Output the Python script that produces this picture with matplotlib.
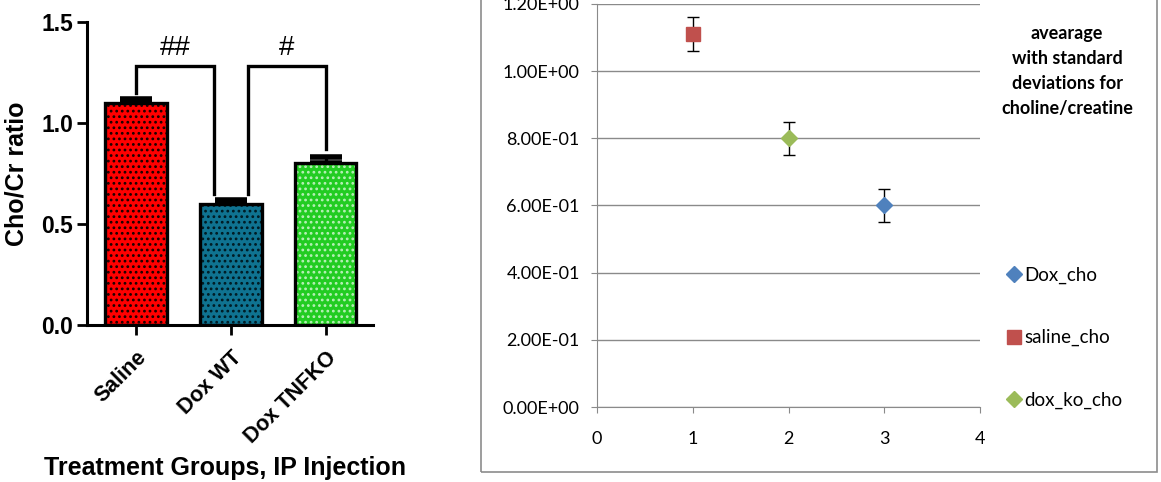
import matplotlib.pyplot as plt
from matplotlib.patches import Rectangle

# ---- bar panel data ----
groups = ["Saline", "Dox WT", "Dox TNFKO"]
ratio = [1.10, 0.60, 0.80]
ratio_sem = [0.02, 0.02, 0.03]
bar_colors = ["#ff0000", "#0f7391", "#22cc22"]
dot_colors = ["#1a0000", "#001a22", "#b8f0b8"]

# significance brackets: (x_left, x_right, left leg end, right leg end, label)
brackets = [(0.0, 0.82, 1.15, 0.65, "##"), (1.18, 2.0, 0.65, 0.87, "#")]
bracket_top = 1.28

# ---- scatter panel data ----
series = ["Dox_cho", "saline_cho", "dox_ko_cho"]
series_x = [3, 1, 2]
series_mean = [0.60, 1.11, 0.80]
series_sd = [0.05, 0.05, 0.05]
series_colors = ["#4f81bd", "#c0504d", "#9bbb59"]
series_markers = ["D", "s", "D"]

W, H = 1161, 482
fig = plt.figure(figsize=(W / 100, H / 100), dpi=100)

# ===== left: bar chart =====
ax = fig.add_axes([87 / W, 1 - 325 / H, (373 - 87) / W, (325 - 22) / H])
x = list(range(len(groups)))
plt.rcParams['hatch.linewidth'] = 1.2
for xi, v, c, dc in zip(x, ratio, bar_colors, dot_colors):
    ax.bar(xi, v, width=0.65, color=c, edgecolor=dc, hatch="...", linewidth=0, zorder=2)
ax.bar(x, ratio, width=0.65, fill=False, edgecolor="black", linewidth=2.4, zorder=3)
ax.errorbar(x, ratio, yerr=[[0] * 3, ratio_sem], fmt="none", ecolor="black",
            elinewidth=2.4, capsize=11.5, capthick=4, zorder=1)

for x0, x1, y0, y1, lab in brackets:
    ax.plot([x0, x0, x1, x1], [y0, bracket_top, bracket_top, y1], color="black",
            lw=2.4, solid_joinstyle="miter", clip_on=False)
    ax.text((x0 + x1) / 2, bracket_top + 0.025, lab, ha="center", va="bottom",
            fontsize=20, family="Liberation Sans")

ax.set_xlim(-0.52, 2.5)
ax.set_ylim(0, 1.5)
ax.set_yticks([0, 0.5, 1.0, 1.5])
ax.set_yticklabels(["0.0", "0.5", "1.0", "1.5"])
ax.set_xticks(x)
ax.set_xticklabels(groups, rotation=45, ha="right", va="top", rotation_mode="anchor")
for lab in ax.get_yticklabels():
    lab.set_fontfamily("Liberation Sans")
    lab.set_fontweight("bold")
    lab.set_fontsize(16.5)
for lab in ax.get_xticklabels():
    lab.set_fontfamily("Liberation Sans")
    lab.set_fontweight("bold")
    lab.set_fontsize(15.5)
ax.tick_params(axis="both", width=2, length=7, direction="out")
ax.tick_params(axis="y", pad=3)
ax.tick_params(axis="x", pad=9)
for s in ["top", "right"]:
    ax.spines[s].set_visible(False)
for s in ["left", "bottom"]:
    ax.spines[s].set_linewidth(2.2)
ax.set_ylabel("Cho/Cr ratio", fontsize=18, fontweight="bold", family="Liberation Sans", labelpad=9)
fig.text(225 / W, 1 - 468 / H, "Treatment Groups, IP Injection", ha="center", va="center",
         fontsize=18, fontweight="bold", family="Liberation Sans")

# ===== right: spreadsheet-style scatter =====
fig.patches.append(Rectangle((481 / W, 1 - 472 / H), (1157 - 481) / W, 1.0,
                             transform=fig.transFigure, fill=False,
                             edgecolor="#8c8c8c", lw=1.2))
ax2 = fig.add_axes([597 / W, 1 - 407 / H, (980 - 597) / W, (407 - 4) / H])
for xs, m, sd, c, mk, name in zip(series_x, series_mean, series_sd, series_colors,
                                   series_markers, series):
    ms = 10 if mk == "s" else 8.5
    ax2.errorbar(xs, m, yerr=sd, fmt=mk, color=c, ms=ms, ecolor="black",
                 elinewidth=1, capsize=4.5, capthick=1, label=name, zorder=3)
ax2.set_xlim(0, 4)
ax2.set_ylim(0, 1.2)
ax2.set_xticks([0, 1, 2, 3, 4])
ax2.set_yticks([0, 0.2, 0.4, 0.6, 0.8, 1.0, 1.2])
ax2.set_yticklabels(["%.2E" % v for v in [0, 0.2, 0.4, 0.6, 0.8, 1.0, 1.2]])
ax2.yaxis.grid(True, color="#8a8a8a", lw=1)
ax2.set_axisbelow(True)
for s in ["top", "right"]:
    ax2.spines[s].set_visible(False)
for s in ["left", "bottom"]:
    ax2.spines[s].set_color("#8a8a8a")
ax2.tick_params(axis="both", color="#8a8a8a", length=4.5, labelsize=13)
ax2.tick_params(axis="y", pad=8)
ax2.tick_params(axis="x", pad=13)
for lab in ax2.get_xticklabels() + ax2.get_yticklabels():
    lab.set_fontfamily("Lato")

fig.text(1067 / W, 1 - 71 / H, "avearage\nwith standard\ndeviations for\ncholine/creatine",
         ha="center", va="center", fontsize=13, fontweight="bold", family="Lato",
         linespacing=1.55)
handles, labels = ax2.get_legend_handles_labels()
handles = [h[0] for h in handles]
leg = fig.legend(handles, labels, loc="upper left", bbox_to_anchor=(990 / W, 1 - 250 / H),
                 frameon=False, handlelength=0.8, handletextpad=0.15, labelspacing=2.4,
                 prop={"family": "Lato", "size": 13.5})

fig.savefig("out.png", dpi=100)
